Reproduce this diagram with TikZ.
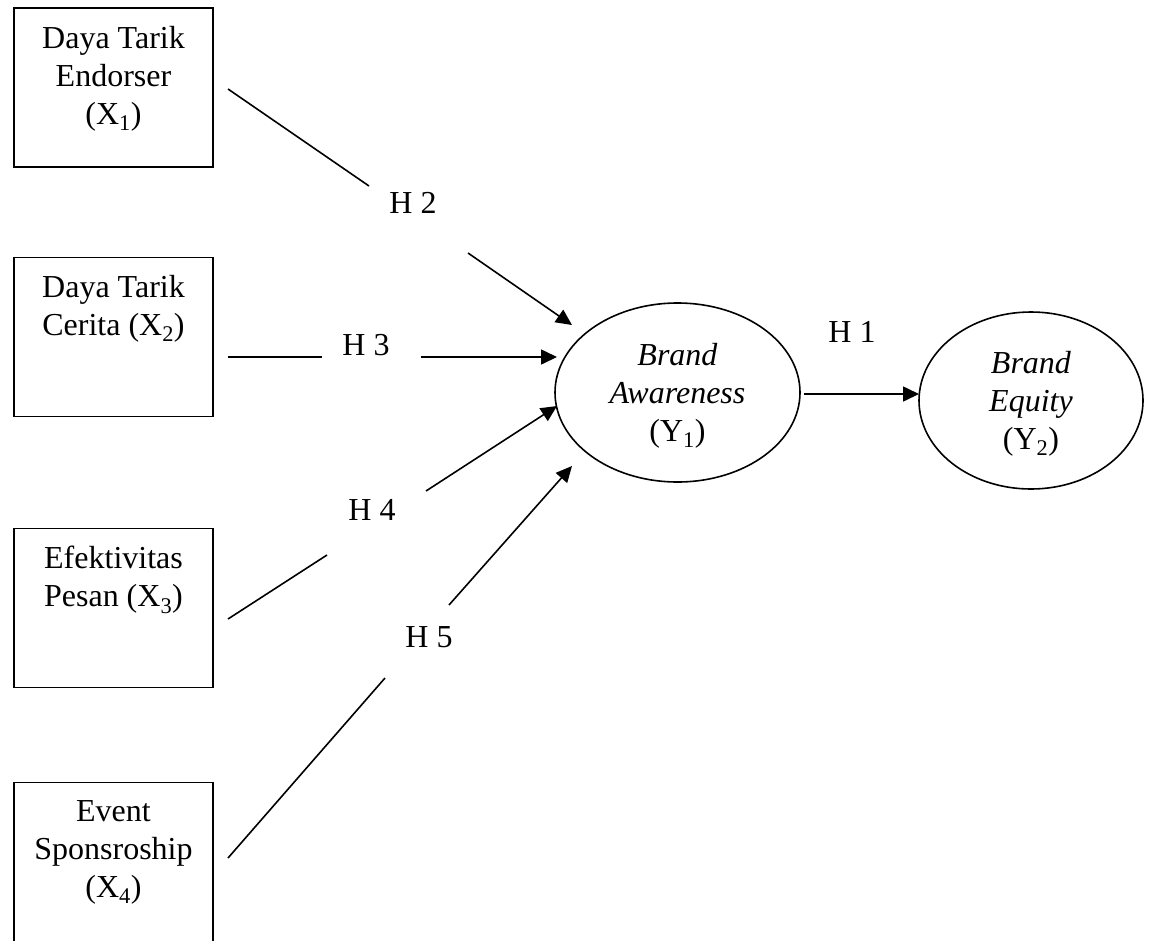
\documentclass[tikz,border=0pt]{standalone}
\usepackage{fontspec}
\setmainfont{Liberation Serif}
\usetikzlibrary{arrows.meta,shapes.geometric}
\begin{document}
\begin{tikzpicture}[x=1pt,y=-1pt,
  box/.style={draw,line width=1.8pt,minimum width=199pt,minimum height=159pt,inner sep=0pt},
  txt/.style={font=\fontsize{32}{38}\selectfont,align=center,inner sep=0pt,anchor=north},
  oval/.style={draw,ellipse,line width=1.6pt,inner sep=0pt,font=\fontsize{32}{38}\selectfont,align=center},
  hyp/.style={font=\fontsize{32}{38}\selectfont,inner sep=0pt,anchor=base},
  conn/.style={line width=1.6pt},
  arr/.style={line width=1.6pt,-{Triangle[length=16pt,width=15pt]}}]
\useasboundingbox (0,0) rectangle (1153,940);
% boxes
\node[box] (x1) at (113.5,87.5) {};
\node[box] (x2) at (113.5,337) {};
\node[box] (x3) at (113.5,608) {};
\node[box] (x4) at (113.5,862) {};
\node[txt] (x1t) at (113.5,26) {Daya Tarik\\Endorser\\(X\textsubscript{1})};
\node[txt] (x2t) at (113.5,275) {Daya Tarik\\Cerita (X\textsubscript{2})};
\node[txt] (x3t) at (113.5,546) {Efektivitas\\Pesan (X\textsubscript{3})};
\node[txt] (x4t) at (113.5,800) {Event\\Sponsroship\\(X\textsubscript{4})};
% ellipses
\node[oval,minimum width=245pt,minimum height=179pt] (ya) at (677.5,392.5) {};
\node[txt] (yat) at (677.5,343) {\textit{Brand}\\\textit{Awareness}\\(Y\textsubscript{1})};
\node[oval,minimum width=224pt,minimum height=177pt] (ye) at (1031,400.5) {};
\node[txt] (yet) at (1031,351) {\textit{Brand}\\\textit{Equity}\\(Y\textsubscript{2})};
% hypothesis labels
\node[hyp] (h2) at (413,213) {H 2};
\node[hyp] (h3) at (366,355) {H 3};
\node[hyp] (h4) at (372,520) {H 4};
\node[hyp] (h5) at (429,647) {H 5};
\node[hyp] (h1) at (852,342) {H 1};
% connector end points
\coordinate (a2) at (228,89);  \coordinate (b2) at (369,186);
\coordinate (c2) at (468,253); \coordinate (d2) at (572,325);
\coordinate (a3) at (228,357); \coordinate (b3) at (322,357);
\coordinate (c3) at (421,357); \coordinate (d3) at (557,357);
\coordinate (a4) at (228,619); \coordinate (b4) at (327,555);
\coordinate (c4) at (426,491); \coordinate (d4) at (557,406);
\coordinate (a5) at (228,858); \coordinate (b5) at (385,678);
\coordinate (c5) at (449,605); \coordinate (d5) at (572,466);
\coordinate (c1) at (804,394); \coordinate (d1) at (919,394);
% connectors
\draw[conn] (a2) -- (b2);
\draw[arr] (c2) -- (d2);
\draw[conn] (a3) -- (b3);
\draw[arr] (c3) -- (d3);
\draw[conn] (a4) -- (b4);
\draw[arr] (c4) -- (d4);
\draw[conn] (a5) -- (b5);
\draw[arr] (c5) -- (d5);
\draw[arr] (c1) -- (d1);
\end{tikzpicture}
\end{document}
